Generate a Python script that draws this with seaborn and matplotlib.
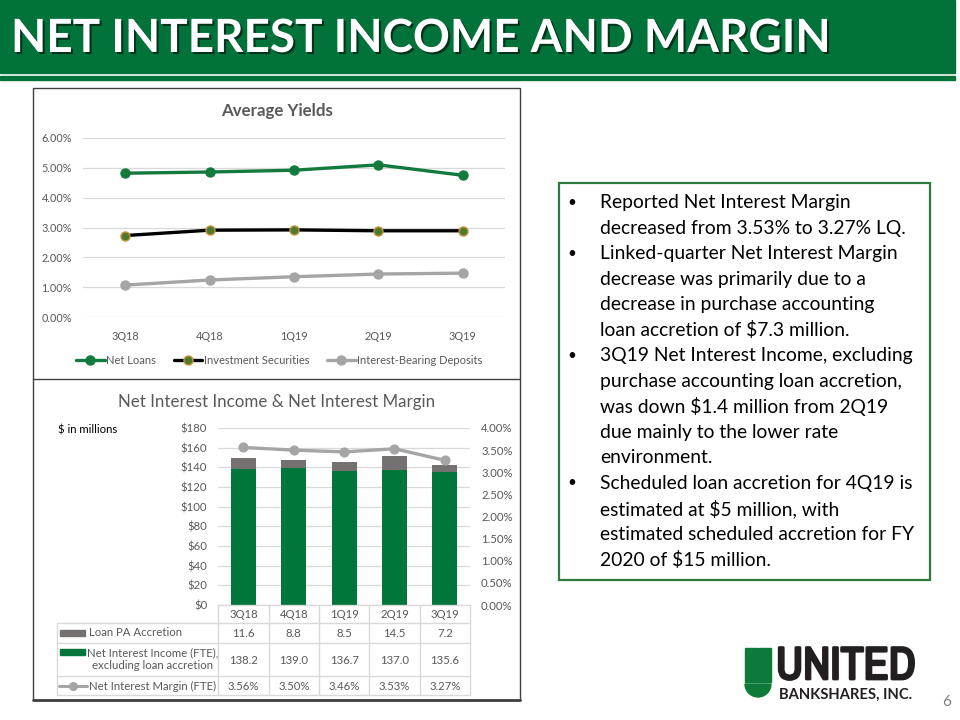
import numpy as np
import pandas as pd
import seaborn as sns
import matplotlib.pyplot as plt
import matplotlib.patches as mpatches
import matplotlib.patheffects as pe
from matplotlib import font_manager
from matplotlib.lines import Line2D
from matplotlib.ticker import FuncFormatter

# values
quarters = ['3Q18', '4Q18', '1Q19', '2Q19', '3Q19']

# average yields, in percent
net_loans = [4.82, 4.86, 4.92, 5.10, 4.75]
investment_securities = [2.73, 2.91, 2.92, 2.89, 2.89]
ib_deposits = [1.07, 1.24, 1.35, 1.44, 1.47]
yield_ticks = [0, 1, 2, 3, 4, 5, 6]

# net interest income ($ millions) and margin (percent)
loan_pa_accretion = [11.6, 8.8, 8.5, 14.5, 7.2]
nii_ex_accretion = [138.2, 139.0, 136.7, 137.0, 135.6]
nim_fte = [3.56, 3.50, 3.46, 3.53, 3.27]
dollar_ticks = [0, 20, 40, 60, 80, 100, 120, 140, 160, 180]
nim_ticks = [0, 0.5, 1.0, 1.5, 2.0, 2.5, 3.0, 3.5, 4.0]

bullets = [
    ['Reported Net Interest Margin',
     'decreased from 3.53% to 3.27% LQ.'],
    ['Linked-quarter Net Interest Margin',
     'decrease was primarily due to a',
     'decrease in purchase accounting',
     'loan accretion of $7.3 million.'],
    ['3Q19 Net Interest Income, excluding',
     'purchase accounting loan accretion,',
     'was down $1.4 million from 2Q19',
     'due mainly to the lower rate',
     'environment.'],
    ['Scheduled loan accretion for 4Q19 is',
     'estimated at $5 million, with',
     'estimated scheduled accretion for FY',
     '2020 of $15 million.'],
]

# colours
HEADER_GREEN = '#00723A'
BAR_GREEN = '#00763B'
LOAN_GREEN = '#137A3E'
ACCR_GRAY = '#767171'
LINE_GRAY = '#A5A5A5'
TEXT_GRAY = '#595959'
GRID = '#D9D9D9'

W, H = 960, 720


def box(x0, y0, x1, y1):
    """pixel rectangle (top-left origin) -> figure fraction"""
    return [x0 / W, 1 - y1 / H, (x1 - x0) / W, (y1 - y0) / H]


def pct(v, _):
    return f'{v:.2f}%'


def draw_header(bg):
    bg.add_patch(mpatches.Rectangle((0, 0), 955, 73, color=HEADER_GREEN))
    bg.add_patch(mpatches.Rectangle((0, 76), 955, 4, color=HEADER_GREEN))
    bg.text(11, 39, 'NET INTEREST INCOME AND MARGIN', color='white',
            fontsize=33, fontweight='bold', va='center', ha='left',
            path_effects=[pe.withSimplePatchShadow(offset=(1.5, -1.5),
                                                   shadow_rgbFace='black',
                                                   alpha=0.55)])
    # panel frame around both charts
    bg.add_patch(mpatches.Rectangle((33, 88), 487, 612, fill=False,
                                    edgecolor='#404040', lw=1.0))
    bg.plot([33, 520], [379, 379], color='#404040', lw=1.0)
    bg.plot([33, 520], [700, 700], color='#404040', lw=2.0)


def draw_yields(fig, bg):
    ax = fig.add_axes(box(83, 138, 505, 317))
    ax.set_facecolor('none')
    styles = {
        'Net Loans': dict(color=LOAN_GREEN, markerfacecolor=LOAN_GREEN,
                          markeredgecolor=LOAN_GREEN),
        'Investment Securities': dict(color='black', markerfacecolor='#4E7A2C',
                                      markeredgecolor='#C8913C'),
        'Interest-Bearing Deposits': dict(color=LINE_GRAY, markerfacecolor=LINE_GRAY,
                                          markeredgecolor=LINE_GRAY),
    }
    series = {
        'Net Loans': net_loans,
        'Investment Securities': investment_securities,
        'Interest-Bearing Deposits': ib_deposits,
    }
    handles = []
    for name, vals in series.items():
        st = styles[name]
        sns.lineplot(x=quarters, y=vals, ax=ax, sort=False, marker='o',
                     markersize=6.5, linewidth=2.4, markeredgewidth=1.0, **st)
        handles.append(Line2D([], [], marker='o', markersize=6.5, linewidth=2.4,
                              markeredgewidth=1.0, label=name, **st))

    ax.set_xlim(-0.5, 4.5)
    ax.set_ylim(0, 6)
    ax.set_yticks(yield_ticks)
    ax.yaxis.set_major_formatter(FuncFormatter(pct))
    ax.grid(axis='y', color=GRID, lw=0.9)
    ax.grid(axis='x', visible=False)
    ax.set_axisbelow(True)
    sns.despine(ax=ax, left=True, bottom=True)
    ax.tick_params(length=0, labelsize=7.8, labelcolor=TEXT_GRAY)
    ax.tick_params(axis='y', pad=8)
    ax.tick_params(axis='x', pad=10)
    ax.set_xlabel('')
    ax.set_ylabel('')

    bg.text(277, 111, 'Average Yields', fontsize=12.2, fontweight='bold',
            color=TEXT_GRAY, ha='center', va='center')
    fig.legend(handles=handles, loc='center', ncol=3, frameon=False,
               bbox_to_anchor=(279 / W, 1 - 360 / H), fontsize=8,
               labelcolor=TEXT_GRAY, handlelength=2.6, handletextpad=0.1,
               columnspacing=1.6)


def draw_nii(fig, bg):
    ax = fig.add_axes(box(218.3, 428, 470, 605))
    ax.set_facecolor('none')
    totals = [a + b for a, b in zip(nii_ex_accretion, loan_pa_accretion)]
    sns.barplot(x=quarters, y=totals, color=ACCR_GRAY, saturation=1, width=0.5,
                errorbar=None, linewidth=0, ax=ax)
    sns.barplot(x=quarters, y=nii_ex_accretion, color=BAR_GREEN, saturation=1,
                width=0.5, errorbar=None, linewidth=0, ax=ax)
    ax.set_xlim(-0.5, 4.5)
    ax.set_ylim(0, 180)
    ax.set_yticks(dollar_ticks)
    ax.yaxis.set_major_formatter(FuncFormatter(lambda v, _: f'${v:.0f}'))
    ax.grid(axis='y', color=GRID, lw=0.9)
    ax.set_axisbelow(True)
    sns.despine(ax=ax, left=True, bottom=True)
    ax.tick_params(axis='x', length=0, labelbottom=False)
    ax.tick_params(axis='y', length=0, labelsize=8.2, labelcolor=TEXT_GRAY, pad=8)
    ax.set_xlabel('')
    ax.set_ylabel('')

    ax2 = ax.twinx()
    sns.pointplot(x=quarters, y=nim_fte, color=LINE_GRAY, markers='o',
                  markersize=5.5, linewidth=2.4, errorbar=None, ax=ax2)
    ax2.set_ylim(0, 4)
    ax2.set_yticks(nim_ticks)
    ax2.yaxis.set_major_formatter(FuncFormatter(pct))
    ax2.tick_params(axis='y', length=0, labelsize=8.2, labelcolor=TEXT_GRAY, pad=8)
    for s in ax2.spines.values():
        s.set_visible(False)
    ax2.set_ylabel('')
    ax2.set_xlim(-0.5, 4.5)

    bg.text(277, 402, 'Net Interest Income & Net Interest Margin', fontsize=12.2,
            color=TEXT_GRAY, ha='center', va='center')
    bg.text(58, 430, '$ in millions', fontsize=8.2, color='black',
            ha='left', va='center')


def draw_table(fig, bg):
    tab = fig.add_axes(box(218.3, 605, 470, 695))
    tab.set_xlim(-0.5, 4.5)
    tab.set_ylim(90, 0)
    tab.axis('off')
    left = -0.5 - (218.3 - 56.7) / (251.7 / 5)
    rows = [0, 18.3, 38.3, 71, 90]
    kw = dict(color=GRID, lw=1.0, clip_on=False)
    tab.plot([-0.5, 4.5], [0, 0], **kw)
    for y in rows[1:]:
        tab.plot([left, 4.5], [y, y], **kw)
    for i in range(len(quarters) + 1):
        tab.plot([i - 0.5, i - 0.5], [0, 90], **kw)
    tab.plot([left, left], [rows[1], 90], **kw)

    tk = dict(fontsize=8.2, color=TEXT_GRAY, ha='center', va='center')
    for i, q in enumerate(quarters):
        tab.text(i, 9.3, q, **tk)
        tab.text(i, 28.3, f'{loan_pa_accretion[i]:.1f}', **tk)
        tab.text(i, 55, f'{nii_ex_accretion[i]:.1f}', **tk)
        tab.text(i, 81, f'{nim_fte[i]:.2f}%', **tk)

    # row labels with their legend keys
    bg.add_patch(mpatches.Rectangle((60, 630), 25, 6, color=ACCR_GRAY))
    bg.text(89, 633, 'Loan PA Accretion', fontsize=8.2, color=TEXT_GRAY,
            ha='left', va='center')
    bg.add_patch(mpatches.Rectangle((60, 649), 25, 6, color=BAR_GREEN))
    bg.text(153, 659, 'Net Interest Income (FTE),\nexcluding loan accretion',
            fontsize=8.2, color=TEXT_GRAY, ha='center', va='center',
            multialignment='center', linespacing=1.15)
    bg.plot([59, 87], [686, 686], color=LINE_GRAY, lw=2.2)
    bg.plot([73], [686], marker='o', markersize=5.5, color=LINE_GRAY)
    bg.text(89, 686, 'Net Interest Margin (FTE)', fontsize=8.2, color=TEXT_GRAY,
            ha='left', va='center')


def draw_textbox(bg):
    bg.add_patch(mpatches.Rectangle((559, 183), 371, 397, fill=False,
                                    edgecolor='#2C7A3E', lw=1.6))
    y = 202.7
    step = 25.5
    for lines in bullets:
        bg.text(572, y, '•', fontsize=11, color='black', ha='center', va='center')
        for line in lines:
            bg.text(600, y, line, fontsize=13.9, color='black',
                    ha='left', va='center')
            y += step


def pick_logo_font():
    # a heavy condensed face suits the wordmark best; fall back to Roboto
    fonts = font_manager.fontManager.ttflist
    for f in fonts:
        if 'Narrow' in f.name or 'Condensed' in f.name:
            return f.name, 'bold', 33
    for f in fonts:
        if f.name == 'DejaVu Sans' and 'condensed' in str(f.stretch):
            return 'DejaVu Sans', 'bold', 29
    return 'Roboto', 'black', 26


def draw_logo(bg):
    logo_font, logo_weight, logo_size = pick_logo_font()
    logo_green = '#0E7A3A'
    ink = '#231F20'
    bg.add_patch(mpatches.Rectangle((745, 648), 12.5, 34, color=logo_green))
    bg.add_patch(mpatches.Rectangle((759, 648), 12, 34, color=logo_green))
    bg.add_patch(mpatches.Wedge((758, 684), 13, 0, 180, color=logo_green))
    bg.text(776, 679, 'UNITED', family=logo_font, fontsize=logo_size,
            fontweight=logo_weight, fontstretch='condensed', color=ink,
            ha='left', va='baseline',
            path_effects=[pe.withStroke(linewidth=2.0, foreground=ink)])
    bg.text(779, 695, 'BANKSHARES, INC.', fontsize=10.6, fontweight='bold',
            color=ink, ha='left', va='center')
    bg.text(947, 702, '6', fontsize=11, color='#7F7F7F', ha='center', va='center')


def main():
    sns.set_theme(style='white')
    plt.rcParams['font.family'] = ['Lato', 'DejaVu Sans']

    fig = plt.figure(figsize=(9.6, 7.2), dpi=100)
    bg = fig.add_axes([0, 0, 1, 1])
    bg.set_xlim(0, W)
    bg.set_ylim(H, 0)
    bg.axis('off')

    draw_header(bg)
    draw_yields(fig, bg)
    draw_nii(fig, bg)
    draw_table(fig, bg)
    draw_textbox(bg)
    draw_logo(bg)

    fig.savefig('out.png', dpi=100)
    plt.close(fig)


if __name__ == '__main__':
    main()
